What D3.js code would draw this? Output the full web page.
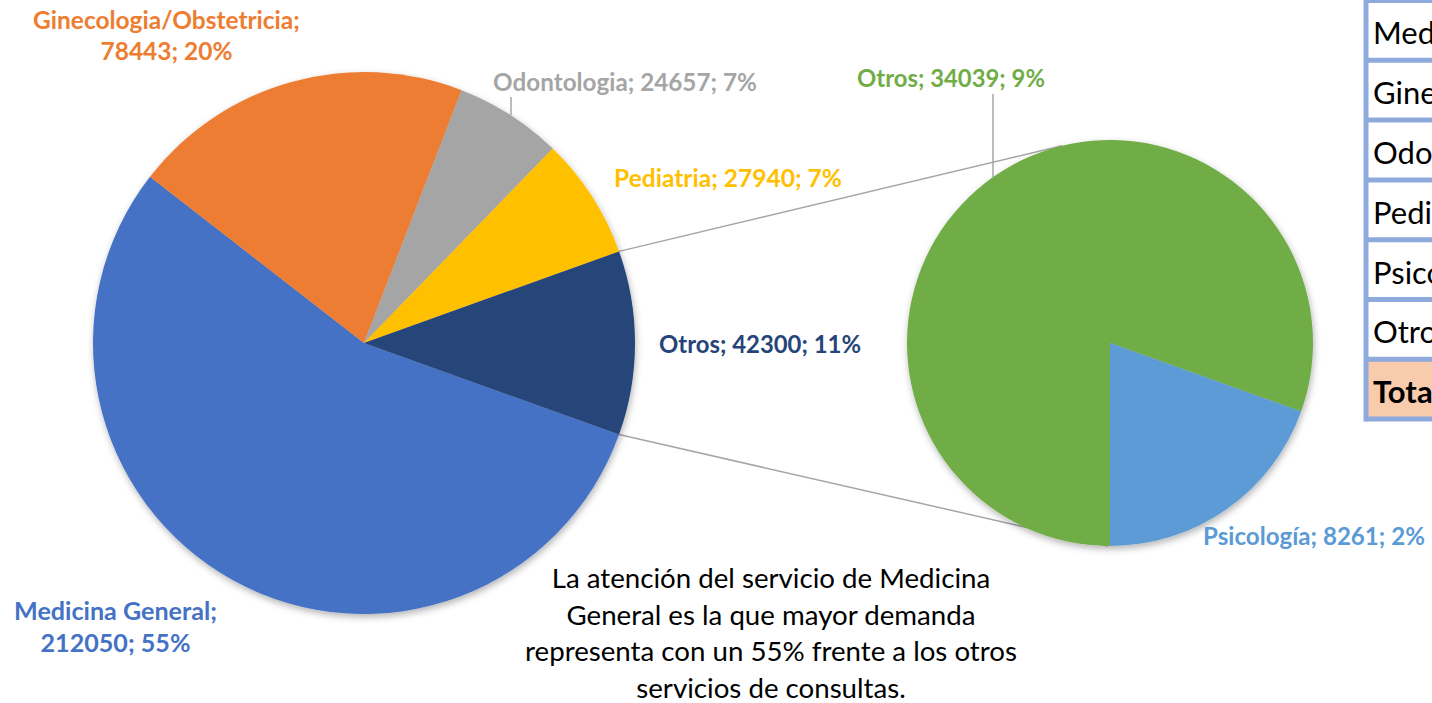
<!DOCTYPE html>
<html><head><meta charset="utf-8">
<script src="https://cdn.jsdelivr.net/npm/d3@7"></script>
<style>html,body{margin:0;padding:0;background:#fff;overflow:hidden}svg{display:block}</style>
</head><body>
<script>
// ---- data ----
const categories = ["Medicina General", "Ginecologia/Obstetricia", "Odontologia", "Pediatria", "Otros"];
const values = [212050, 78443, 24657, 27940, 42300];
const percentLabels = ["55%", "20%", "7%", "7%", "11%"];
const subCategories = ["Otros", "Psicología"];
const subValues = [34039, 8261];
const subPercentLabels = ["9%", "2%"];
const colors = ["#4472C4", "#ED7D31", "#A5A5A5", "#FFC000", "#264478"];
const subColors = ["#70AD47", "#5B9BD5"];
const tableRows = ["Medicina General", "Ginecologia/Obstetricia", "Odontologia", "Pediatria", "Psicología", "Otros", "Total"];
const noteLines = ["La atención del servicio de Medicina", "General es la que mayor demanda", "representa con un 55% frente a los otros", "servicios de consultas."];

// ---- layout ----
const W = 1432, H = 703;
const FONT = "Lato, 'Open Sans', sans-serif";
const main = {cx: 364, cy: 343, r: 271};
const sub = {cx: 1110, cy: 343, r: 203};
const labelPos = [
  {x: 115.5, y: [620, 652], w: 203},
  {x: 166.5, y: [29, 60], w: 267},
  {x: 625, y: [91], w: 264},
  {x: 728, y: [187], w: 228},
  {x: 760, y: [353], w: 202}
];
const subLabelPos = [
  {x: 951, y: [87], w: 188},
  {x: 1314, y: [545], w: 222}
];

const svg = d3.select("body").append("svg").attr("width", W).attr("height", H);
const defs = svg.append("defs");
const f = defs.append("filter").attr("id", "shadow").attr("x", "-10%").attr("y", "-10%").attr("width", "120%").attr("height", "120%");
f.append("feDropShadow").attr("dx", 1).attr("dy", 3).attr("stdDeviation", 3.5).attr("flood-color", "#000").attr("flood-opacity", 0.3);

const pt = (c, a, r) => [c.cx + r * Math.sin(a), c.cy - r * Math.cos(a)];

// main pie
const total = d3.sum(values);
const otrosAng = values[4] / total * 2 * Math.PI;
const start = Math.PI / 2 + otrosAng / 2;
const pie = d3.pie().sort(null).value(d => d).startAngle(start).endAngle(start + 2 * Math.PI);
const arcs = pie(values);
const arcGen = d3.arc().innerRadius(0).outerRadius(main.r);

// sub pie
const subPie = d3.pie().sort(null).value(d => d).startAngle(Math.PI).endAngle(3 * Math.PI);
const subArcs = subPie(subValues);
const subArcGen = d3.arc().innerRadius(0).outerRadius(sub.r);

// connector lines
const oArc = arcs[4];
const connA = [pt(main, oArc.startAngle, main.r), pt(sub, -0.238, sub.r)];
const connB = [pt(main, oArc.endAngle, main.r), pt(sub, Math.PI + 0.01, sub.r)];
svg.append("g").selectAll("line").data([connA, connB]).join("line")
  .attr("x1", d => d[0][0]).attr("y1", d => d[0][1]).attr("x2", d => d[1][0]).attr("y2", d => d[1][1])
  .attr("stroke", "#A6A6A6").attr("stroke-width", 1.5);

svg.append("g").attr("transform", `translate(${main.cx},${main.cy})`).attr("filter", "url(#shadow)")
  .selectAll("path").data(arcs).join("path").attr("d", arcGen).attr("fill", (d, i) => colors[i]);
svg.append("g").attr("transform", `translate(${sub.cx},${sub.cy})`).attr("filter", "url(#shadow)")
  .selectAll("path").data(subArcs).join("path").attr("d", subArcGen).attr("fill", (d, i) => subColors[i]);

// leader lines
const leaders = [[511, 97, 511, 115], [993, 94, 993, 177]];
svg.append("g").selectAll("line").data(leaders).join("line")
  .attr("x1", d => d[0]).attr("y1", d => d[1]).attr("x2", d => d[2]).attr("y2", d => d[3])
  .attr("stroke", "#A6A6A6").attr("stroke-width", 1.5);

function drawLabel(g, lines, pos, color) {
  const t = g.append("text").attr("font-family", FONT).attr("font-weight", 700)
    .attr("font-size", 25).attr("fill", color).attr("text-anchor", "middle");
  const spans = lines.map((l, k) => t.append("tspan").attr("x", pos.x).attr("y", pos.y[k]).text(l));
  const w = spans[0].node().getComputedTextLength();
  t.attr("font-size", 25 * pos.w / w);
}
const lg = svg.append("g");
categories.forEach((c, i) => {
  const pos = labelPos[i];
  const lines = pos.y.length === 2 ? [`${c};`, `${values[i]}; ${percentLabels[i]}`] : [`${c}; ${values[i]}; ${percentLabels[i]}`];
  drawLabel(lg, lines, pos, colors[i]);
});
subCategories.forEach((c, i) => {
  drawLabel(lg, [`${c}; ${subValues[i]}; ${subPercentLabels[i]}`], subLabelPos[i], subColors[i]);
});

// note
const note = svg.append("text").attr("font-family", FONT).attr("font-size", 30).attr("fill", "#000").attr("text-anchor", "middle");
const noteY = [588, 624.5, 661, 697.5];
const ns = noteLines.map((l, k) => note.append("tspan").attr("x", 771).attr("y", noteY[k]).text(l));
note.attr("font-size", 30 * 492 / ns[2].node().getComputedTextLength());

// table (clipped at right edge)
const tx = 1366, rowH = 59.8, rowTop = 0.5;
const tg = svg.append("g");
tg.append("rect").attr("x", tx).attr("y", rowTop + 6 * rowH).attr("width", W - tx).attr("height", rowH).attr("fill", "#F8CBAD");
tableRows.forEach((r, i) => {
  tg.append("text").attr("x", tx + 7).attr("y", rowTop + i * rowH + rowH / 2 + 14)
    .attr("font-family", FONT).attr("font-size", 31).attr("font-weight", i === 6 ? 700 : 400)
    .attr("fill", "#000").text(r);
});
d3.range(8).forEach(i => {
  tg.append("line").attr("x1", tx).attr("x2", W).attr("y1", rowTop + i * rowH).attr("y2", rowTop + i * rowH)
    .attr("stroke", "#8EA9DB").attr("stroke-width", 5);
});
tg.append("line").attr("x1", tx).attr("x2", tx).attr("y1", 0).attr("y2", rowTop + 7 * rowH + 2.5)
  .attr("stroke", "#8EA9DB").attr("stroke-width", 5);
</script>
</body></html>
